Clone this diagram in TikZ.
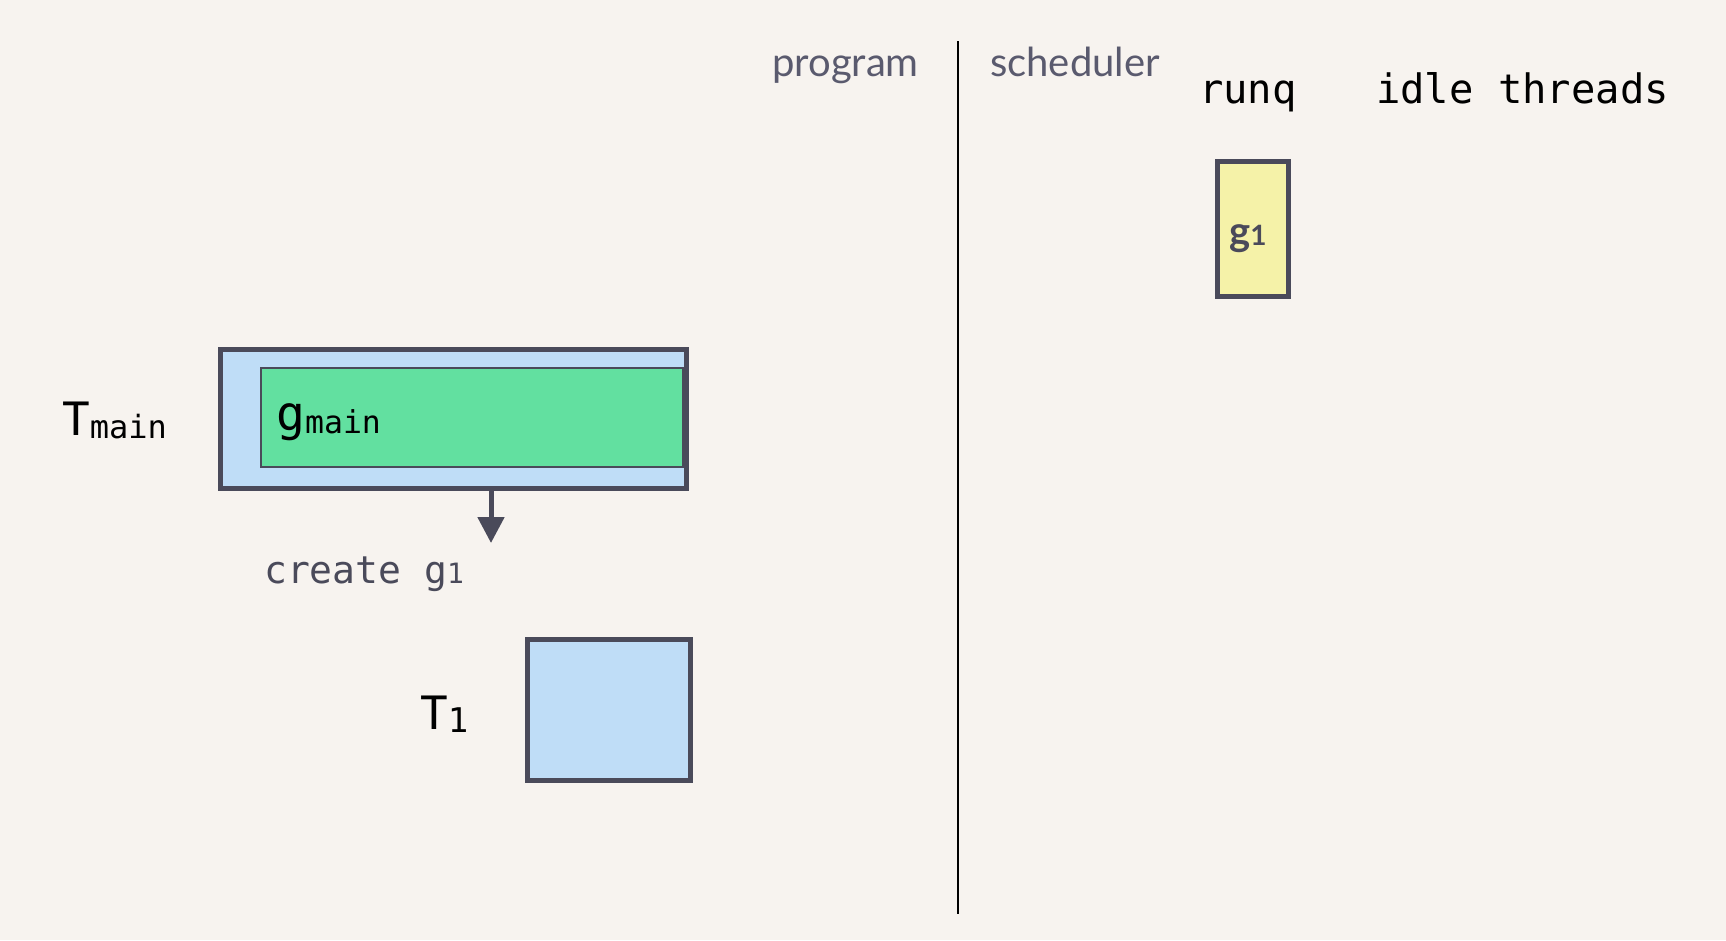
\documentclass[tikz,border=0pt]{standalone}
\usepackage{fontspec}
\setmainfont{Lato}
\newfontfamily\monofont{DejaVu Sans Mono}
\usetikzlibrary{arrows.meta}
\definecolor{bg}{HTML}{F7F3EF}
\definecolor{tblue}{HTML}{BFDDF7}
\definecolor{ggreen}{HTML}{62E0A0}
\definecolor{gyellow}{HTML}{F5F2A8}
\definecolor{dark}{HTML}{4A4A5A}
\definecolor{graytext}{HTML}{5A5A6E}
\tikzset{
  thread/.style={fill=tblue, draw=dark, line width=5pt, inner sep=0pt},
  gbox/.style={fill=ggreen, draw=dark, line width=2pt, inner sep=0pt},
  rqbox/.style={fill=gyellow, draw=dark, line width=5pt, inner sep=0pt},
  lbl/.style={inner sep=0pt, anchor=base west, font=\monofont},
  hdr/.style={inner sep=0pt, anchor=base west, text=graytext, font=\fontsize{40}{44}\selectfont},
  flow/.style={draw=dark, line width=5pt, -{Triangle[width=26pt,length=26pt]}}
}
\begin{document}
\begin{tikzpicture}[x=1pt,y=-1pt]
\useasboundingbox[fill=bg] (0,0) rectangle (1726,940);
% divider
\coordinate (dtop) at (958,41);
\coordinate (dbot) at (958,914);
\draw[black, line width=2.5pt] (dtop) -- (dbot);
% headers
\node[hdr, anchor=base east] (program) at (919,76) {program};
\node[hdr] (scheduler) at (990,76) {scheduler};
\node[lbl, font=\monofont\fontsize{40.5}{46}\selectfont] (runq) at (1199,103) {runq};
\node[lbl, font=\monofont\fontsize{40.5}{46}\selectfont] (idle) at (1376,103) {idle threads};
% runq g1
\node[rqbox, minimum width=71pt, minimum height=135pt] (g1) at (1253,229) {};
\node[inner sep=0pt, anchor=base west, text=dark, font=\bfseries\fontsize{40}{44}\selectfont] (g1lbl) at (1229,245) {g{\fontsize{28}{32}\selectfont 1}};
% Tmain
\node[thread, draw=none, minimum width=466pt, minimum height=139pt] (tmain) at (453,418.5) {};
\node[gbox, minimum width=422pt, minimum height=99pt] (gmain) at (472,417.5) {};
\draw[dark, line width=5pt] ([shift={(2.5,2.5)}]tmain.north west) rectangle ([shift={(-2.5,-2.5)}]tmain.south east);
\node[lbl] (tmainlbl) at (62,435) {{\fontsize{46}{50}\selectfont T}{\fontsize{32}{36}\selectfont\raisebox{-3pt}{main}}};
\node[lbl] (gmainlbl) at (276,430) {{\fontsize{48}{50}\selectfont g}{\fontsize{31.5}{36}\selectfont\raisebox{-3pt}{main}}};
% create arrow
\coordinate (arrowend) at (491,543);
\draw[flow] (tmain.south -| arrowend) -- (arrowend);
\node[lbl, text=dark, font=\monofont\fontsize{38}{42}\selectfont] (create) at (264,583) {create g{\fontsize{28}{32}\selectfont 1}};
% T1
\node[thread, minimum width=163pt, minimum height=141pt] (t1) at (609,710) {};
\node[lbl] (t1lbl) at (420,729) {{\fontsize{46}{50}\selectfont T}{\fontsize{34}{38}\selectfont\raisebox{-3pt}{1}}};
\end{tikzpicture}
\end{document}
